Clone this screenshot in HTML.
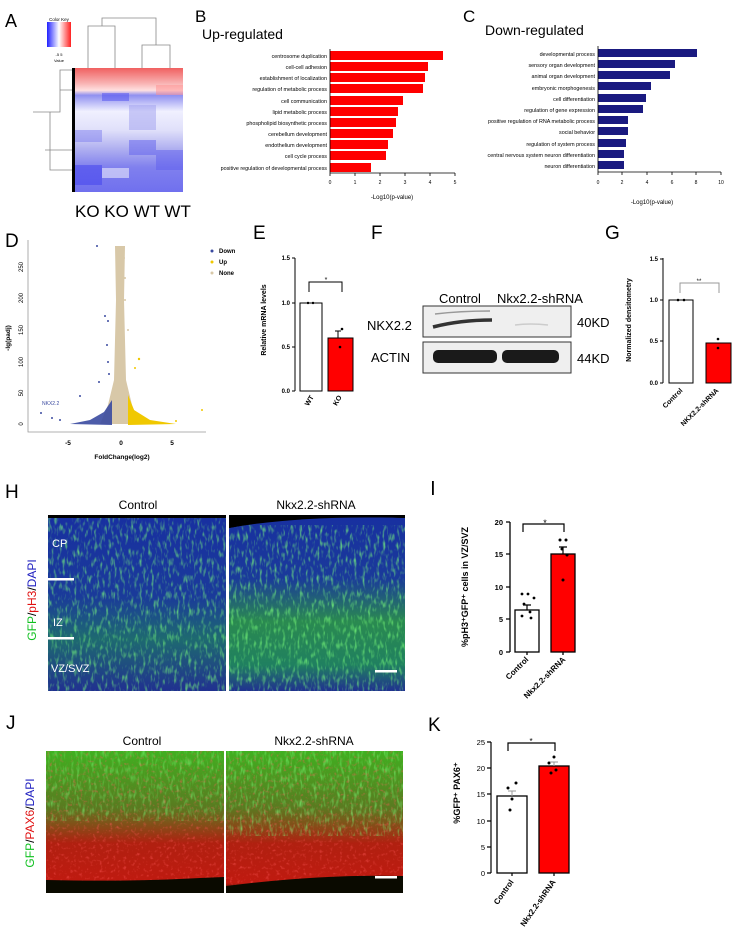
<!DOCTYPE html>
<html><head><meta charset="utf-8"><style>
html,body{margin:0;padding:0;background:#fff}
svg{display:block;font-family:"Liberation Sans",Arial,sans-serif}
</style></head><body>
<svg width="740" height="939" viewBox="0 0 740 939" xmlns="http://www.w3.org/2000/svg">
<defs>
<linearGradient id="ck" x1="0" x2="1"><stop offset="0" stop-color="#2020ff"/><stop offset="0.5" stop-color="#fff"/><stop offset="1" stop-color="#ff2020"/></linearGradient>
<linearGradient id="hm" x1="0" y1="0" x2="0" y2="1">
<stop offset="0" stop-color="#f06060"/><stop offset="0.12" stop-color="#f8b0b0"/><stop offset="0.18" stop-color="#ffe0e0"/><stop offset="0.22" stop-color="#9090f0"/><stop offset="0.35" stop-color="#f0f0ff"/><stop offset="0.5" stop-color="#e0e0fa"/><stop offset="0.65" stop-color="#b0b0f0"/><stop offset="0.8" stop-color="#8080ee"/><stop offset="1" stop-color="#7070ee"/></linearGradient>
<filter id="nz" x="0" y="0" width="100%" height="100%"><feTurbulence type="fractalNoise" baseFrequency="0.35 0.12" numOctaves="2" seed="3"/><feColorMatrix values="0 0 0 0 0.2  0 0 0 0 1  0 0 0 0 0.2  0 0 0 2.2 -1.1"/><feComposite in2="SourceGraphic" operator="in"/></filter>
<filter id="nz2" x="0" y="0" width="100%" height="100%"><feTurbulence type="fractalNoise" baseFrequency="0.3" numOctaves="2" seed="7"/><feColorMatrix values="0 0 0 0 1  0 0 0 0 0.1  0 0 0 0 0.1  0 0 0 2.5 -1.4"/><feComposite in2="SourceGraphic" operator="in"/></filter>
<linearGradient id="hg" x1="0" y1="0" x2="0" y2="1"><stop offset="0" stop-color="#1830a0"/><stop offset="0.45" stop-color="#1a3a9a"/><stop offset="0.7" stop-color="#1e6a70"/><stop offset="1" stop-color="#203090"/></linearGradient>
<linearGradient id="hg2" x1="0" y1="0" x2="0" y2="1"><stop offset="0" stop-color="#1830a0"/><stop offset="0.35" stop-color="#1a3a9a"/><stop offset="0.6" stop-color="#2a8a50"/><stop offset="0.85" stop-color="#208060"/><stop offset="1" stop-color="#203090"/></linearGradient>
<linearGradient id="jg" x1="0" y1="0" x2="0" y2="1"><stop offset="0" stop-color="#40b020"/><stop offset="0.4" stop-color="#5a7a20"/><stop offset="0.65" stop-color="#b02010"/><stop offset="0.93" stop-color="#c01a10"/><stop offset="1" stop-color="#101000"/></linearGradient>
</defs>

<!-- A -->
<text x="5" y="27" font-size="18">A</text>
<rect x="47" y="22" width="24" height="25" fill="url(#ck)"/>
<text x="59" y="21" font-size="4.5" text-anchor="middle">Color Key</text>
<text x="59" y="56" font-size="4" text-anchor="middle">-5   5</text>
<text x="59" y="62" font-size="4" text-anchor="middle">Value</text>
<g stroke="#888" fill="none" stroke-width="0.8">
<path d="M88 68V26H115V68M142 68V45H170V68M156 45V18H102V26"/>
<path d="M73 70H60V112H33M60 90H73M50 112V170H73M45 150H73"/>
</g>
<rect x="75" y="68" width="108" height="124" fill="url(#hm)"/>
<g opacity="0.5">
<rect x="102" y="93" width="27" height="8" fill="#5050f0"/><rect x="156" y="85" width="27" height="10" fill="#ff9090"/>
<rect x="129" y="105" width="27" height="25" fill="#a0a0f0"/><rect x="75" y="130" width="27" height="12" fill="#8080f0"/>
<rect x="129" y="140" width="27" height="15" fill="#6060ee"/><rect x="156" y="150" width="27" height="20" fill="#6060ee"/>
<rect x="102" y="168" width="27" height="10" fill="#fff"/><rect x="75" y="165" width="27" height="20" fill="#4040ee"/>
</g>
<rect x="72" y="68" width="3" height="124" fill="#000"/>
<text x="75" y="217" font-size="17">KO  KO  WT  WT</text>

<!-- B -->
<text x="195" y="22" font-size="17">B</text>
<text x="202" y="39" font-size="14">Up-regulated</text>
<g font-size="5.4" text-anchor="end">
<text x="327" y="58">centrosome duplication</text>
<text x="327" y="69">cell-cell adhesion</text>
<text x="327" y="80">establishment of localization</text>
<text x="327" y="91">regulation of metabolic process</text>
<text x="327" y="103">cell communication</text>
<text x="327" y="114">lipid metabolic process</text>
<text x="327" y="125">phospholipid biosynthetic process</text>
<text x="327" y="136">cerebellum development</text>
<text x="327" y="147">endothelium development</text>
<text x="327" y="158">cell cycle process</text>
<text x="327" y="170">positive regulation of developmental process</text>
</g>
<g fill="#ff0000">
<rect x="330" y="51" width="113" height="9"/><rect x="330" y="62" width="98" height="9"/><rect x="330" y="73" width="95" height="9"/><rect x="330" y="84" width="93" height="9"/><rect x="330" y="96" width="73" height="9"/><rect x="330" y="107" width="68" height="9"/><rect x="330" y="118" width="66" height="9"/><rect x="330" y="129" width="63" height="9"/><rect x="330" y="140" width="58" height="9"/><rect x="330" y="151" width="56" height="9"/><rect x="330" y="163" width="41" height="9"/>
</g>
<path d="M330 49V173H455M330 173v3M355 173v3M380 173v3M405 173v3M430 173v3M455 173v3" stroke="#000" stroke-width="0.8" fill="none"/>
<g font-size="5" text-anchor="middle"><text x="330" y="184">0</text><text x="355" y="184">1</text><text x="380" y="184">2</text><text x="405" y="184">3</text><text x="430" y="184">4</text><text x="455" y="184">5</text></g>
<text x="392" y="199" font-size="6" text-anchor="middle">-Log10(p-value)</text>

<!-- C -->
<text x="463" y="22" font-size="17">C</text>
<text x="485" y="35" font-size="14">Down-regulated</text>
<g font-size="5.4" text-anchor="end">
<text x="595" y="56">developmental process</text>
<text x="595" y="67">sensory organ development</text>
<text x="595" y="78">animal organ development</text>
<text x="595" y="90">embryonic morphogenesis</text>
<text x="595" y="101">cell differentiation</text>
<text x="595" y="112">regulation of gene expression</text>
<text x="595" y="123">positive regulation of RNA metabolic process</text>
<text x="595" y="134">social behavior</text>
<text x="595" y="146">regulation of system process</text>
<text x="595" y="157">central nervous system neuron differentiation</text>
<text x="595" y="168">neuron differentiation</text>
</g>
<g fill="#1a1a80">
<rect x="598" y="49" width="99" height="8"/><rect x="598" y="60" width="77" height="8"/><rect x="598" y="71" width="72" height="8"/><rect x="598" y="82" width="53" height="8"/><rect x="598" y="94" width="48" height="8"/><rect x="598" y="105" width="45" height="8"/><rect x="598" y="116" width="30" height="8"/><rect x="598" y="127" width="30" height="8"/><rect x="598" y="139" width="28" height="8"/><rect x="598" y="150" width="26" height="8"/><rect x="598" y="161" width="26" height="8"/>
</g>
<path d="M598 46V172H721M598 172v3M622 172v3M647 172v3M672 172v3M696 172v3M721 172v3" stroke="#000" stroke-width="0.8" fill="none"/>
<g font-size="5" text-anchor="middle"><text x="598" y="184">0</text><text x="622" y="184">2</text><text x="647" y="184">4</text><text x="672" y="184">6</text><text x="696" y="184">8</text><text x="721" y="184">10</text></g>
<text x="652" y="204" font-size="6" text-anchor="middle">-Log10(p-value)</text>

<!-- D -->
<text x="5" y="247" font-size="19">D</text>
<path d="M28 240V432H206" stroke="#999" stroke-width="0.8" fill="none"/>
<g font-size="6" text-anchor="middle">
<text transform="translate(23 424) rotate(-90)">0</text><text transform="translate(23 393) rotate(-90)">50</text><text transform="translate(23 362) rotate(-90)">100</text><text transform="translate(23 330) rotate(-90)">150</text><text transform="translate(23 298) rotate(-90)">200</text><text transform="translate(23 267) rotate(-90)">250</text>
</g>
<g font-size="6.5" font-weight="bold" text-anchor="middle"><text x="68" y="445">-5</text><text x="121" y="445">0</text><text x="172" y="445">5</text></g>
<text x="10" y="338" font-size="6.5" font-weight="bold" transform="rotate(-90 10 338)" text-anchor="middle">-lg(padj)</text>
<text x="122" y="459" font-size="6.5" font-weight="bold" text-anchor="middle">FoldChange(log2)</text>
<path d="M115 246H125L124 300L126 380L132 405L140 424L100 424L108 405L114 380L116 300Z" fill="#d8c8a8"/>
<path d="M112 400L104 412L90 420L70 424L112 425Z" fill="#3a4aa0" opacity="0.9"/>
<path d="M128 395L134 410L150 420L176 424L128 425Z" fill="#f0c800"/>
<g fill="#3a4aa0"><circle cx="97" cy="246" r="1"/><circle cx="105" cy="316" r="1"/><circle cx="108" cy="321" r="1"/><circle cx="107" cy="345" r="1"/><circle cx="108" cy="362" r="1"/><circle cx="109" cy="374" r="1"/><circle cx="99" cy="382" r="1"/><circle cx="80" cy="396" r="1"/><circle cx="41" cy="413" r="1"/><circle cx="52" cy="418" r="1"/><circle cx="60" cy="420" r="1"/></g>
<g fill="#d8c8a8"><circle cx="124" cy="258" r="1"/><circle cx="125" cy="278" r="1"/><circle cx="125" cy="300" r="1"/><circle cx="128" cy="330" r="1"/></g>
<g fill="#f0c800"><circle cx="139" cy="359" r="1.2"/><circle cx="135" cy="368" r="1"/><circle cx="202" cy="410" r="1"/><circle cx="176" cy="421" r="1"/></g>
<text x="42" y="405" font-size="5" fill="#3a4aa0">NKX2.2</text>
<g font-size="6" font-weight="bold"><circle cx="212" cy="251" r="1.5" fill="#3a4aa0"/><text x="219" y="253">Down</text><circle cx="212" cy="262" r="1.5" fill="#f0c800"/><text x="219" y="264">Up</text><circle cx="212" cy="273" r="1.5" fill="#d8c8a8"/><text x="219" y="275">None</text></g>

<!-- E -->
<text x="253" y="239" font-size="19">E</text>
<path d="M295 258V391M292 258h3M292 303h3M292 347h3M292 391h3" stroke="#000" stroke-width="1" fill="none"/>
<g font-size="6" font-weight="bold" text-anchor="end"><text x="290" y="260">1.5</text><text x="290" y="305">1.0</text><text x="290" y="349">0.5</text><text x="290" y="393">0.0</text></g>
<rect x="300" y="303" width="22" height="88" fill="#fff" stroke="#000"/>
<rect x="328" y="338" width="25" height="53" fill="#ff0000" stroke="#000"/>
<path d="M338 338v-7M335 331h6" stroke="#000"/>
<g fill="#000"><circle cx="342" cy="329" r="1.3"/><circle cx="340" cy="347" r="1.3"/><circle cx="308" cy="303" r="1.2"/><circle cx="313" cy="303" r="1.2"/></g>
<path d="M309 292V282H342V292" stroke="#000" fill="none"/>
<text x="326" y="282" font-size="7" text-anchor="middle">*</text>
<text x="266" y="320" font-size="7" font-weight="bold" transform="rotate(-90 266 320)" text-anchor="middle">Relative mRNA levels</text>
<g font-size="7" font-weight="bold"><text x="314" y="397" transform="rotate(-60 314 397)" text-anchor="end">WT</text><text x="342" y="397" transform="rotate(-60 342 397)" text-anchor="end">KO</text></g>

<!-- F -->
<text x="371" y="239" font-size="19">F</text>
<text x="439" y="303" font-size="13">Control</text>
<text x="497" y="303" font-size="13">Nkx2.2-shRNA</text>
<rect x="423" y="306" width="148" height="31" fill="#efefef" stroke="#333" stroke-width="1"/>
<path d="M433 327Q460 320 492 320" stroke="#333" stroke-width="3.5" fill="none"/>
<path d="M435 314Q460 311 490 311" stroke="#999" stroke-width="1.5" fill="none"/>
<path d="M515 325Q530 323 548 325" stroke="#ccc" stroke-width="1.5" fill="none"/>
<rect x="423" y="342" width="148" height="31" fill="#efefef" stroke="#333" stroke-width="1"/>
<rect x="433" y="350" width="64" height="13" rx="5" fill="#1a1a1a"/>
<rect x="502" y="350" width="57" height="13" rx="5" fill="#1a1a1a"/>
<text x="367" y="330" font-size="13">NKX2.2</text>
<text x="371" y="362" font-size="13">ACTIN</text>
<text x="577" y="327" font-size="13">40KD</text>
<text x="577" y="363" font-size="13">44KD</text>

<!-- G -->
<text x="605" y="239" font-size="19">G</text>
<path d="M663 258V383M660 259h3M660 300h3M660 341h3M660 383h3" stroke="#000" fill="none"/>
<g font-size="6" font-weight="bold" text-anchor="end"><text x="658" y="261">1.5</text><text x="658" y="302">1.0</text><text x="658" y="343">0.5</text><text x="658" y="385">0.0</text></g>
<rect x="669" y="300" width="24" height="83" fill="#fff" stroke="#000"/>
<rect x="706" y="343" width="25" height="40" fill="#ff0000" stroke="#000"/>
<g fill="#000"><circle cx="678" cy="300" r="1.3"/><circle cx="684" cy="300" r="1.3"/><circle cx="718" cy="339" r="1.3"/><circle cx="718" cy="348" r="1.3"/></g>
<path d="M680 293V283H719V293" stroke="#999" fill="none"/>
<text x="699" y="283" font-size="6" text-anchor="middle">**</text>
<text x="631" y="320" font-size="7" font-weight="bold" transform="rotate(-90 631 320)" text-anchor="middle">Normalized densitometry</text>
<g font-size="7" font-weight="bold"><text x="683" y="391" transform="rotate(-45 683 391)" text-anchor="end">Control</text><text x="719" y="391" transform="rotate(-45 719 391)" text-anchor="end">NKX2.2-shRNA</text></g>

<!-- H -->
<text x="5" y="498" font-size="19">H</text>
<text x="138" y="509" font-size="12" text-anchor="middle">Control</text>
<text x="316" y="509" font-size="12" text-anchor="middle">Nkx2.2-shRNA</text>
<rect x="48" y="515" width="357" height="176" fill="#000"/>
<rect x="48" y="518" width="178" height="173" fill="url(#hg)"/>
<path d="M229 528Q300 515 405 518V691H229Z" fill="url(#hg2)"/>
<rect x="48" y="518" width="178" height="173" fill="#fff" filter="url(#nz)" opacity="0.8"/>
<rect x="229" y="525" width="176" height="166" fill="#fff" filter="url(#nz)" opacity="0.85"/>
<path d="M229 515H405V518Q300 514 229 528Z" fill="#000"/>
<rect x="226" y="515" width="3" height="176" fill="#fff"/>
<rect x="48" y="578" width="26" height="2.5" fill="#fff"/>
<rect x="48" y="637" width="26" height="2.5" fill="#fff"/>
<rect x="375" y="670" width="22" height="2.5" fill="#fff"/>
<g fill="#fff" font-size="11"><text x="52" y="547">CP</text><text x="53" y="626">IZ</text><text x="51" y="672">VZ/SVZ</text></g>
<text x="36" y="600" font-size="12" transform="rotate(-90 36 600)" text-anchor="middle"><tspan fill="#10c020">GFP</tspan>/<tspan fill="#e01010">pH3</tspan>/<tspan fill="#2020c0">DAPI</tspan></text>

<!-- I -->
<rect x="432" y="481" width="1.8" height="14" fill="#000"/>
<path d="M510 522V652M506 522h4M506 554h4M506 587h4M506 619h4M506 652h4M527 652v3M563 652v3" stroke="#000" stroke-width="1.3" fill="none"/>
<g font-size="7.5" font-weight="bold" text-anchor="end"><text x="503" y="525">20</text><text x="503" y="557">15</text><text x="503" y="590">10</text><text x="503" y="622">5</text><text x="503" y="655">0</text></g>
<rect x="515" y="610" width="24" height="42" fill="#fff" stroke="#000" stroke-width="1.3"/>
<rect x="551" y="554" width="24" height="98" fill="#ff0000" stroke="#000" stroke-width="1.3"/>
<g fill="#000"><circle cx="522" cy="594" r="1.4"/><circle cx="528" cy="594" r="1.4"/><circle cx="534" cy="598" r="1.4"/><circle cx="524" cy="604" r="1.4"/><circle cx="530" cy="612" r="1.4"/><circle cx="522" cy="616" r="1.4"/><circle cx="531" cy="618" r="1.4"/><circle cx="560" cy="540" r="1.5"/><circle cx="566" cy="540" r="1.5"/><circle cx="562" cy="549" r="1.5"/><circle cx="567" cy="555" r="1.5"/><circle cx="563" cy="580" r="1.5"/></g>
<path d="M563 554v-7M559 547h8M527 610v-5M523 605h8" stroke="#000" stroke-width="1.2"/>
<path d="M523 532V524H564V532" stroke="#000" stroke-width="1.2" fill="none"/>
<text x="545" y="526" font-size="9" text-anchor="middle">*</text>
<text x="468" y="587" font-size="9" font-weight="bold" transform="rotate(-90 468 587)" text-anchor="middle">%pH3⁺GFP⁺ cells in VZ/SVZ</text>
<g font-size="8" font-weight="bold"><text x="529" y="660" transform="rotate(-45 529 660)" text-anchor="end">Control</text><text x="566" y="660" transform="rotate(-45 566 660)" text-anchor="end">Nkx2.2-shRNA</text></g>

<!-- J -->
<text x="6" y="729" font-size="19">J</text>
<text x="142" y="745" font-size="12" text-anchor="middle">Control</text>
<text x="314" y="745" font-size="12" text-anchor="middle">Nkx2.2-shRNA</text>
<rect x="46" y="751" width="178" height="142" fill="url(#jg)"/>
<rect x="226" y="751" width="177" height="142" fill="url(#jg)"/>
<rect x="46" y="751" width="178" height="142" fill="#fff" filter="url(#nz2)" opacity="0.6"/>
<rect x="226" y="751" width="177" height="142" fill="#fff" filter="url(#nz2)" opacity="0.6"/>
<rect x="46" y="751" width="178" height="70" fill="#fff" filter="url(#nz)" opacity="0.6"/>
<rect x="226" y="751" width="177" height="85" fill="#fff" filter="url(#nz)" opacity="0.7"/>
<path d="M46 880Q130 882 200 878L224 877V893H46Z" fill="#0a0a00"/>
<path d="M226 886Q320 874 403 876V893H226Z" fill="#0a0a00"/>
<rect x="224" y="751" width="2" height="142" fill="#fff"/>
<rect x="375" y="876" width="22" height="2.5" fill="#fff"/>
<text x="34" y="823" font-size="12" transform="rotate(-90 34 823)" text-anchor="middle"><tspan fill="#10c020">GFP</tspan>/<tspan fill="#e01010">PAX6</tspan>/<tspan fill="#2020c0">DAPI</tspan></text>

<!-- K -->
<text x="428" y="731" font-size="19">K</text>
<path d="M491 742V873M487 742h4M487 768h4M487 794h4M487 821h4M487 847h4M487 873h4M512 873v3M554 873v3" stroke="#000" stroke-width="1.2" fill="none"/>
<g font-size="7.5" text-anchor="end"><text x="485" y="745">25</text><text x="485" y="771">20</text><text x="485" y="797">15</text><text x="485" y="824">10</text><text x="485" y="850">5</text><text x="485" y="876">0</text></g>
<rect x="497" y="796" width="30" height="77" fill="#fff" stroke="#000" stroke-width="1.3"/>
<rect x="539" y="766" width="30" height="107" fill="#ff0000" stroke="#000" stroke-width="1.3"/>
<g fill="#000"><circle cx="516" cy="783" r="1.5"/><circle cx="508" cy="788" r="1.5"/><circle cx="512" cy="799" r="1.5"/><circle cx="510" cy="810" r="1.5"/><circle cx="554" cy="757" r="1.5"/><circle cx="549" cy="763" r="1.5"/><circle cx="556" cy="770" r="1.5"/><circle cx="551" cy="773" r="1.5"/></g>
<path d="M512 796v-5M508 791h8M554 766v-4M550 762h8" stroke="#999" stroke-width="1"/>
<path d="M508 751V743H555V751" stroke="#000" stroke-width="1.2" fill="none"/>
<text x="531" y="744" font-size="8" text-anchor="middle">*</text>
<text x="460" y="793" font-size="9" font-weight="bold" transform="rotate(-90 460 793)" text-anchor="middle">%GFP⁺ PAX6⁺</text>
<g font-size="8" font-weight="bold"><text x="514" y="882" transform="rotate(-55 514 882)" text-anchor="end">Control</text><text x="556" y="882" transform="rotate(-55 556 882)" text-anchor="end">Nkx2.2-shRNA</text></g>
</svg>
</body></html>
